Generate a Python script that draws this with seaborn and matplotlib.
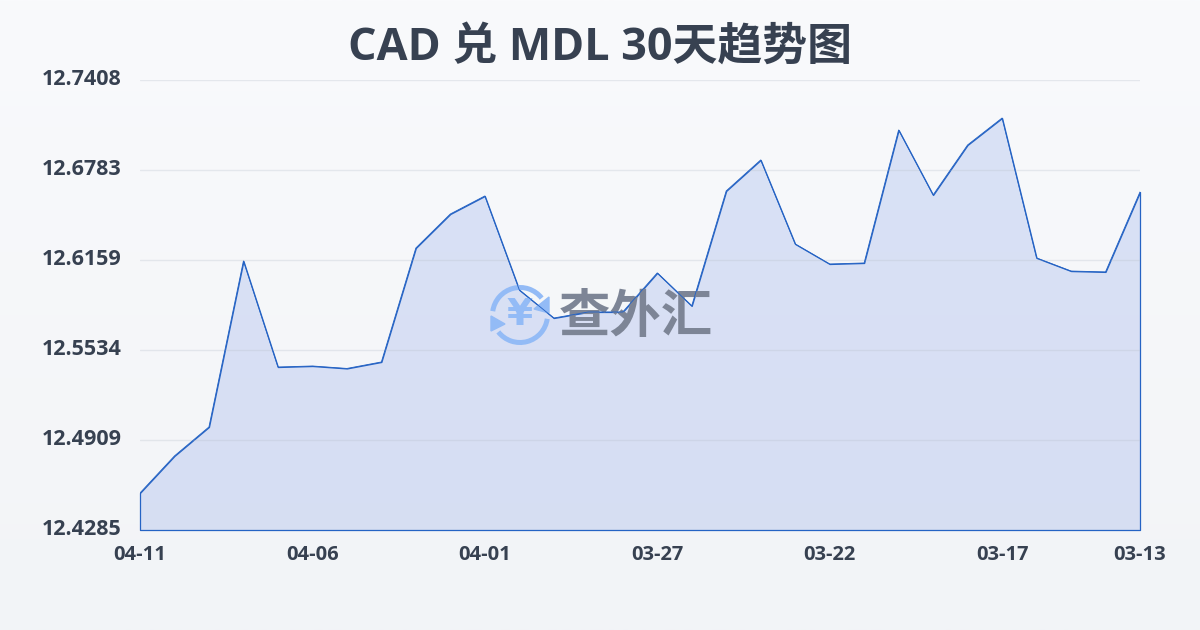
import numpy as np
import seaborn as sns
import matplotlib.pyplot as plt
from matplotlib.patches import Arc, Polygon
from matplotlib.colors import LinearSegmentedColormap
from matplotlib.transforms import ScaledTranslation

dates = ['04-11', '04-10', '04-09', '04-08', '04-07', '04-06', '04-05', '04-04', '04-03', '04-02',
         '04-01', '03-31', '03-30', '03-29', '03-28', '03-27', '03-26', '03-25', '03-24', '03-23',
         '03-22', '03-21', '03-20', '03-19', '03-18', '03-17', '03-16', '03-15', '03-14', '03-13']
rates = [12.4542, 12.4799, 12.5000, 12.6152, 12.5416, 12.5423, 12.5406, 12.5451, 12.6242, 12.6478,
         12.6603, 12.5951, 12.5756, 12.5798, 12.5798, 12.6069, 12.5840, 12.6638, 12.6853, 12.6270,
         12.6131, 12.6138, 12.7061, 12.6610, 12.6957, 12.7144, 12.6173, 12.6082, 12.6076, 12.6631]
x_ticks = ['04-11', '04-06', '04-01', '03-27', '03-22', '03-17', '03-13']
y_ticks = [12.4285, 12.4909, 12.5534, 12.6159, 12.6783, 12.7408]

sns.set_theme(style='white')
plt.rcParams['font.family'] = ['Open Sans', 'Noto Sans CJK SC', 'DejaVu Sans']

text_color = '#374151'
line_color = '#2563c4'
icon_color = '#93bbf6'

fig = plt.figure(figsize=(12, 6.3), dpi=100)

# page background and a pixel space for the watermark
bg = fig.add_axes([0, 0, 1, 1], zorder=0)
bg_cmap = LinearSegmentedColormap.from_list('bg', ['#f9fafc', '#f2f4f7'])
bg.imshow(np.linspace(0, 1, 256).reshape(-1, 1), aspect='auto', cmap=bg_cmap, extent=[0, 1200, 630, 0])
bg.set_xlim(0, 1200)
bg.set_ylim(630, 0)
bg.axis('off')

ax = fig.add_axes([140 / 1200, 100 / 630, 1000 / 1200, 450 / 630], zorder=1)
ax.patch.set_alpha(0)

xs = np.arange(len(dates))
ax.fill_between(xs, rates, y_ticks[0], facecolor=(0.2, 0.38, 0.86, 0.15),
                edgecolor=line_color, linewidth=0.9, zorder=1, clip_on=False)
sns.lineplot(x=xs, y=rates, color=line_color, linewidth=0.65, ax=ax, zorder=4, sort=False)

ax.set_xlim(0, len(dates) - 1)
ax.set_ylim(y_ticks[0], y_ticks[-1])
ax.set_xlabel('')
ax.set_ylabel('')
ax.set_xticks([dates.index(d) for d in x_ticks], x_ticks)
ax.set_yticks(y_ticks, [f'{v:.4f}' for v in y_ticks])
ax.set_axisbelow('line')
ax.grid(axis='y', color='#b9c0cc', alpha=0.3, linewidth=1)
ax.grid(axis='x', visible=False)
ax.tick_params(axis='x', length=7.2, width=1, color='#e5e7eb', pad=3.5, labelsize=14.5, labelcolor=text_color)
ax.tick_params(axis='y', length=0, pad=13, labelsize=15.5, labelcolor=text_color)
for lab in ax.get_xticklabels():
    lab.set_fontweight('bold')
shift_up = ScaledTranslation(0, 2 / 72, fig.dpi_scale_trans)
for lab in ax.get_yticklabels():
    lab.set_fontweight('bold')
    lab.set_transform(lab.get_transform() + shift_up)
sns.despine(ax=ax, left=True, bottom=True)

# watermark, under the line
t = bg.transData
for start, end in [(-172, -38), (8, 142)]:
    ax.add_patch(Arc((520, 315), 55, 55, theta1=start, theta2=end, color=icon_color, linewidth=3.6,
                     transform=t, zorder=2, clip_on=False))
ax.add_patch(Polygon([(549, 297), (549, 313), (534, 309)], color=icon_color, transform=t, zorder=2, clip_on=False))
ax.add_patch(Polygon([(491, 316), (491, 331), (505, 324)], color=icon_color, transform=t, zorder=2, clip_on=False))
ax.text(520, 315, '¥', transform=t, color=icon_color, fontsize=27, fontweight='bold', ha='center', va='center',
        family='DejaVu Sans', zorder=2, clip_on=False)
ax.text(635.5, 319, '查外汇', transform=t, color='#7d8596', fontsize=37, fontweight='bold', ha='center', va='center',
        zorder=2, clip_on=False)

fig.text(0.5, 1 - 48 / 630, 'CAD 兑 MDL 30天趋势图', color=text_color, fontsize=32.3, fontweight='bold',
         ha='center', va='center')

fig.savefig('out.png', dpi=100)
